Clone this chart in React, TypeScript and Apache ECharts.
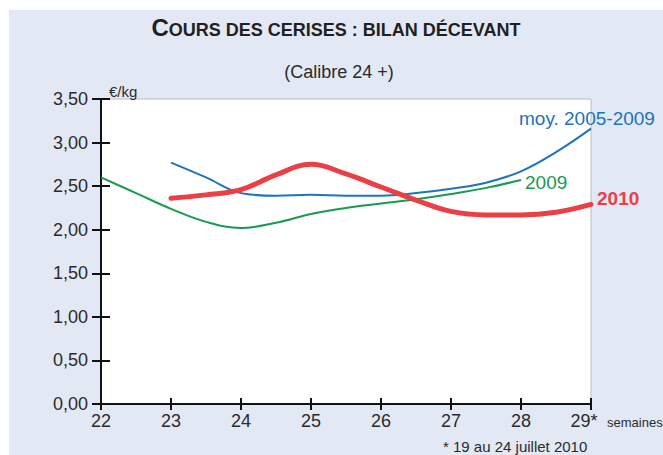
import React, { useEffect, useRef } from 'react';
import * as echarts from 'echarts';

const weekMin = 22;
const weekMax = 29;
const priceMin = 0;
const priceMax = 3.5;
const priceStep = 0.5;

const titleCap = 'C';
const titleRest = 'OURS DES CERISES : BILAN DÉCEVANT';
const subtitle = '(Calibre 24 +)';
const unitLabel = '€/kg';
const axisUnit = 'semaines';
const footnote = '* 19 au 24 juillet 2010';

const avgName = 'moy. 2005-2009';
const avgWeeks = [23, 23.5, 24, 24.5, 25, 25.5, 26, 26.5, 27, 27.5, 28, 28.5, 29];
const avgValues = [2.77, 2.6, 2.42, 2.39, 2.4, 2.39, 2.39, 2.42, 2.47, 2.54, 2.67, 2.89, 3.16];

const y2009Name = '2009';
const y2009Weeks = [22, 22.5, 23, 23.5, 24, 24.5, 25, 25.5, 26, 26.5, 27, 27.5, 28];
const y2009Values = [2.6, 2.42, 2.24, 2.09, 2.02, 2.08, 2.18, 2.25, 2.3, 2.35, 2.41, 2.48, 2.57];

const y2010Name = '2010';
const y2010Weeks = [23, 23.5, 24, 24.5, 25, 25.5, 26, 26.5, 27, 27.5, 28, 28.5, 29];
const y2010Values = [2.36, 2.4, 2.46, 2.63, 2.75, 2.64, 2.49, 2.34, 2.21, 2.17, 2.17, 2.2, 2.29];

const FONT = 'Liberation Sans, Arial, sans-serif';
const BLUE = '#1b74bc';
const GREEN = '#1a9a4f';
const RED = '#ec3f45';
const INK = '#2b2b2b';

const pairs = (xs: number[], ys: number[]) => xs.map((x, i) => [x, ys[i]]);

export default function App() {
  const ref = useRef<HTMLDivElement>(null);
  useEffect(() => {
    const chart = echarts.init(ref.current!, null, { renderer: 'svg' });
    const baseX = {
      type: 'value' as const,
      min: weekMin,
      max: weekMax,
      interval: 1,
      gridIndex: 0,
      position: 'bottom' as const,
      splitLine: { show: false },
    };
    const baseY = {
      type: 'value' as const,
      min: priceMin,
      max: priceMax,
      interval: priceStep,
      gridIndex: 0,
      position: 'left' as const,
      splitLine: { show: false },
    };
    chart.setOption({
      animation: false,
      backgroundColor: 'transparent',
      textStyle: { fontFamily: FONT },
      grid: {
        left: 101,
        right: 72,
        top: 99,
        bottom: 51,
        show: true,
        backgroundColor: '#ffffff',
        borderColor: '#bdbdbd',
        borderWidth: 1,
      },
      xAxis: [
        {
          ...baseX,
          axisLine: { show: true, lineStyle: { color: '#111', width: 2 } },
          axisTick: { show: true, inside: false, length: 6, lineStyle: { color: '#111', width: 2 } },
          axisLabel: {
            margin: 8,
            fontSize: 18,
            color: INK,
            fontFamily: FONT,
            formatter: (v: number) => (v === weekMax ? '{s|' + v + '*}' : String(v)),
            rich: { s: { fontSize: 18, color: INK, fontFamily: FONT, padding: [0, 14, 0, 0] } },
          },
        },
        {
          ...baseX,
          axisLine: { show: false },
          axisTick: { show: true, inside: true, length: 6, lineStyle: { color: '#111', width: 2 } },
          axisLabel: { show: false },
        },
      ],
      yAxis: [
        {
          ...baseY,
          axisLine: { show: true, lineStyle: { color: '#111', width: 2 } },
          axisTick: { show: true, inside: false, length: 9, lineStyle: { color: '#111', width: 2 } },
          axisLabel: {
            margin: 13,
            fontSize: 18,
            color: INK,
            fontFamily: FONT,
            formatter: (v: number) => v.toFixed(2).replace('.', ','),
          },
        },
        {
          ...baseY,
          axisLine: { show: false },
          axisTick: { show: true, inside: true, length: 9, lineStyle: { color: '#111', width: 2 } },
          axisLabel: { show: false },
        },
      ],
      series: [
        {
          name: y2009Name,
          type: 'line',
          xAxisIndex: 0,
          yAxisIndex: 0,
          data: pairs(y2009Weeks, y2009Values),
          smooth: 0.4,
          symbol: 'none',
          lineStyle: { color: GREEN, width: 2 },
          endLabel: {
            show: true,
            formatter: y2009Name,
            color: GREEN,
            fontSize: 19,
            fontFamily: FONT,
            offset: [-4, 2],
          },
        },
        {
          name: avgName,
          type: 'line',
          xAxisIndex: 0,
          yAxisIndex: 0,
          data: pairs(avgWeeks, avgValues),
          smooth: 0.4,
          symbol: 'none',
          lineStyle: { color: BLUE, width: 2 },
          endLabel: {
            show: true,
            formatter: avgName,
            color: BLUE,
            fontSize: 19,
            fontFamily: FONT,
            offset: [-80, -10],
          },
        },
        {
          name: y2010Name,
          type: 'line',
          xAxisIndex: 0,
          yAxisIndex: 0,
          data: pairs(y2010Weeks, y2010Values),
          smooth: 0.4,
          symbol: 'none',
          lineStyle: { color: RED, width: 5, cap: 'round' },
          endLabel: {
            show: true,
            formatter: y2010Name,
            color: RED,
            fontSize: 19,
            fontWeight: 'bold',
            fontFamily: FONT,
            offset: [-2, -6],
          },
        },
      ],
      graphic: [
        {
          type: 'text',
          x: 336,
          y: 39,
          style: {
            text: '{a|' + titleCap + '}{b|' + titleRest + '}',
            align: 'center',
            verticalAlign: 'bottom',
            rich: {
              a: { fontSize: 24, fontWeight: 'bold', fontFamily: FONT, fill: '#231f20', verticalAlign: 'bottom', lineHeight: 24 },
              b: { fontSize: 18, fontWeight: 'bold', fontFamily: FONT, fill: '#231f20', verticalAlign: 'bottom', lineHeight: 18 },
            },
          },
        },
        {
          type: 'text',
          x: 339,
          y: 72,
          style: {
            text: subtitle,
            align: 'center',
            verticalAlign: 'middle',
            fontSize: 18,
            fontFamily: FONT,
            fill: INK,
          },
        },
        {
          type: 'text',
          x: 109,
          y: 91,
          style: {
            text: unitLabel,
            align: 'left',
            verticalAlign: 'middle',
            fontSize: 15,
            fontFamily: FONT,
            fill: INK,
          },
        },
        {
          type: 'text',
          x: 607,
          y: 422,
          style: {
            text: axisUnit,
            align: 'left',
            verticalAlign: 'middle',
            fontSize: 13,
            fontFamily: FONT,
            fill: INK,
          },
        },
        {
          type: 'text',
          x: 443,
          y: 446,
          style: {
            text: footnote,
            align: 'left',
            verticalAlign: 'middle',
            fontSize: 15,
            fontFamily: FONT,
            fill: INK,
          },
        },
      ],
    });
    return () => chart.dispose();
  }, []);
  return (
    <div style={{ position: 'fixed', left: 0, top: 0, width: 663, height: 455, background: '#ffffff' }}>
      <div style={{ position: 'absolute', left: 9, top: 10, right: 0, bottom: 0, background: '#e2e8f4' }} />
      <div ref={ref} style={{ position: 'absolute', left: 0, top: 0, width: 663, height: 455 }} />
    </div>
  );
}
